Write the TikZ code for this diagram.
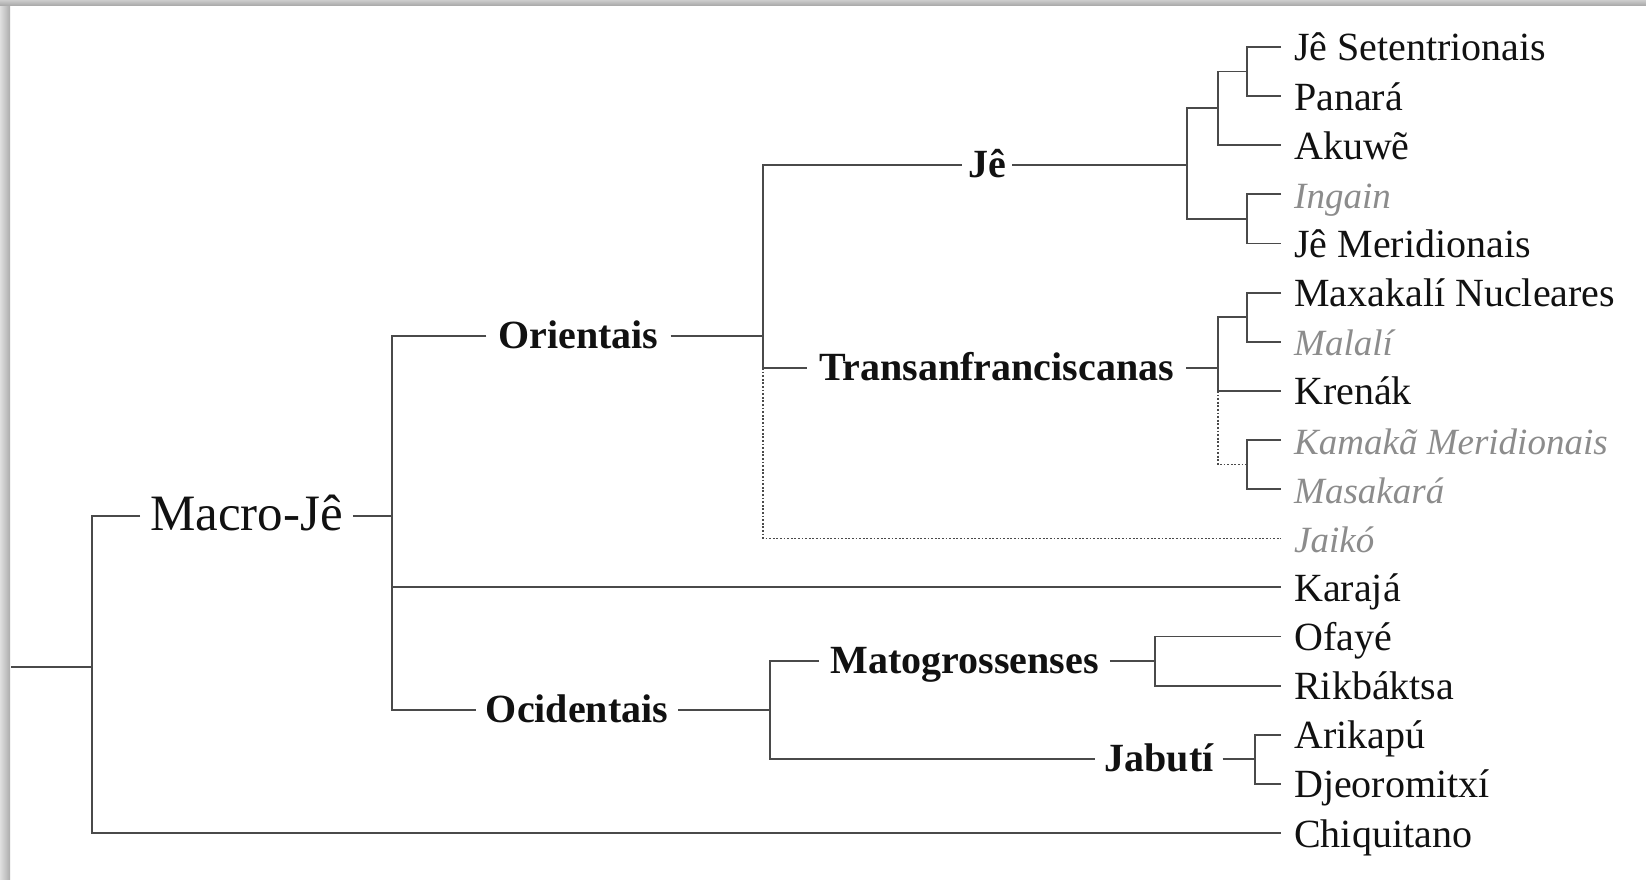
\documentclass[tikz,border=0pt]{standalone}
\usepackage{fontspec}
\setmainfont{Liberation Serif}
\definecolor{ln}{HTML}{4A4A4A}
\definecolor{gt}{HTML}{8C8C8C}
\definecolor{tx}{HTML}{111111}
\tikzset{
 br/.style={draw=ln, line width=1.9pt},
 dt/.style={draw=ln, line width=1.3pt, dash pattern=on 1.8pt off 1.8pt},
 lbl/.style={font=\fontsize{40}{48}\selectfont, inner ysep=0pt, inner xsep=11pt, text height=32pt, text depth=4pt, text=tx},
 leaf/.style={lbl, anchor=west, inner xsep=13pt},
 ext/.style={leaf, text=gt, font=\fontsize{37}{44}\selectfont\itshape},
 grp/.style={lbl, font=\fontsize{40}{48}\selectfont\bfseries, text height=30pt, text depth=5pt},
}
\begin{document}
\begin{tikzpicture}[x=1pt,y=-1pt]
\useasboundingbox (0,0) rectangle (1646,880);
\fill[white] (0,0) rectangle (1646,880);
\shade[left color=gray!25, right color=gray!65] (0,0) rectangle (10,880);
\shade[top color=gray!40, bottom color=gray!70] (0,0) rectangle (1646,6);

% leaves
\node[leaf] (l0) at (1281,47) {Jê Setentrionais};
\node[leaf] (l1) at (1281,96.1) {Panará};
\node[leaf] (l2) at (1281,145.25) {Akuwẽ};
\node[ext]  (l3) at (1281,194.4) {Ingain};
\node[leaf] (l4) at (1281,243.5) {Jê Meridionais};
\node[leaf] (l5) at (1281,292.6) {Maxakalí Nucleares};
\node[ext]  (l6) at (1281,341.75) {Malalí};
\node[leaf] (l7) at (1281,390.9) {Krenák};
\node[ext]  (l8) at (1281,440) {Kamakã Meridionais};
\node[ext]  (l9) at (1281,489.1) {Masakará};
\node[ext]  (l10) at (1281,538.25) {Jaikó};
\node[leaf] (l11) at (1281,587.4) {Karajá};
\node[leaf] (l12) at (1281,636.5) {Ofayé};
\node[leaf] (l13) at (1281,685.6) {Rikbáktsa};
\node[leaf] (l14) at (1281,734.75) {Arikapú};
\node[leaf] (l15) at (1281,783.9) {Djeoromitxí};
\node[leaf] (l16) at (1281,833) {Chiquitano};

% internal labels
\node[lbl, font=\fontsize{51}{60}\selectfont, text height=36pt, text depth=7pt, inner xsep=10pt] (mj) at (246.5,516) {Macro-Jê};
\node[grp, inner xsep=12pt] (ori) at (578.5,336) {Orientais};
\node[grp, inner xsep=10pt] (oci) at (577,710) {Ocidentais};
\node[grp, inner xsep=6pt] (je) at (987,165) {Jê};
\node[grp, inner xsep=12pt] (tra) at (996.5,368) {Transanfranciscanas};
\node[grp] (mat) at (964.5,661) {Matogrossenses};
\node[grp, inner xsep=9pt] (jab) at (1159,759.3) {Jabutí};

% guides
\coordinate (r0) at (11,667);
\coordinate (x0) at (92,0);
\coordinate (x1) at (392,0);
\coordinate (x2) at (763,0);
\coordinate (x3) at (1187,0);
\coordinate (x4) at (1218,0);
\coordinate (x5) at (1247,0);
\coordinate (x6) at (770,0);
\coordinate (x7) at (1155,0);
\coordinate (x8) at (1255,0);
\coordinate (jA) at (1218,108.4);
\coordinate (jB) at (1247,71.5);
\coordinate (jC) at (1247,219);
\coordinate (jD) at (1247,317.2);
\coordinate (jE) at (1247,464.5);

% root
\draw[br] (r0) -- (x0 |- r0);
\draw[br] (mj.west) -| (x0 |- l16.west) -- (l16.west);
% Macro-Je
\draw[br] (mj.east) -- (x1 |- mj.east);
\draw[br] (ori.west) -| (x1 |- oci.west) -- (oci.west);
\draw[br] (x1 |- l11.west) -- (l11.west);
% Orientais
\draw[br] (ori.east) -- (x2 |- ori.east);
\draw[br] (je.west) -| (x2 |- tra.west) -- (tra.west);
\draw[dt] (x2 |- tra.west) |- (l10.west);
% Je
\draw[br] (je.east) -- (x3 |- je.east);
\draw[br] (jA) -| (x3 |- jC) -- (jC);
\draw[br] (jB) -| (x4 |- l2.west) -- (l2.west);
\draw[br] (l0.west) -| (x5 |- l1.west) -- (l1.west);
\draw[br] (l3.west) -| (x5 |- l4.west) -- (l4.west);
% Transanfranciscanas
\draw[br] (tra.east) -- (x4 |- tra.east);
\draw[br] (jD) -| (x4 |- l7.west) -- (l7.west);
\draw[dt] (x4 |- l7.west) |- (jE);
\draw[br] (l5.west) -| (x5 |- l6.west) -- (l6.west);
\draw[br] (l8.west) -| (x5 |- l9.west) -- (l9.west);
% Ocidentais
\draw[br] (oci.east) -- (x6 |- oci.east);
\draw[br] (mat.west) -| (x6 |- jab.west) -- (jab.west);
\draw[br] (mat.east) -- (x7 |- mat.east);
\draw[br] (l12.west) -| (x7 |- l13.west) -- (l13.west);
\draw[br] (jab.east) -- (x8 |- jab.east);
\draw[br] (l14.west) -| (x8 |- l15.west) -- (l15.west);
\end{tikzpicture}
\end{document}
